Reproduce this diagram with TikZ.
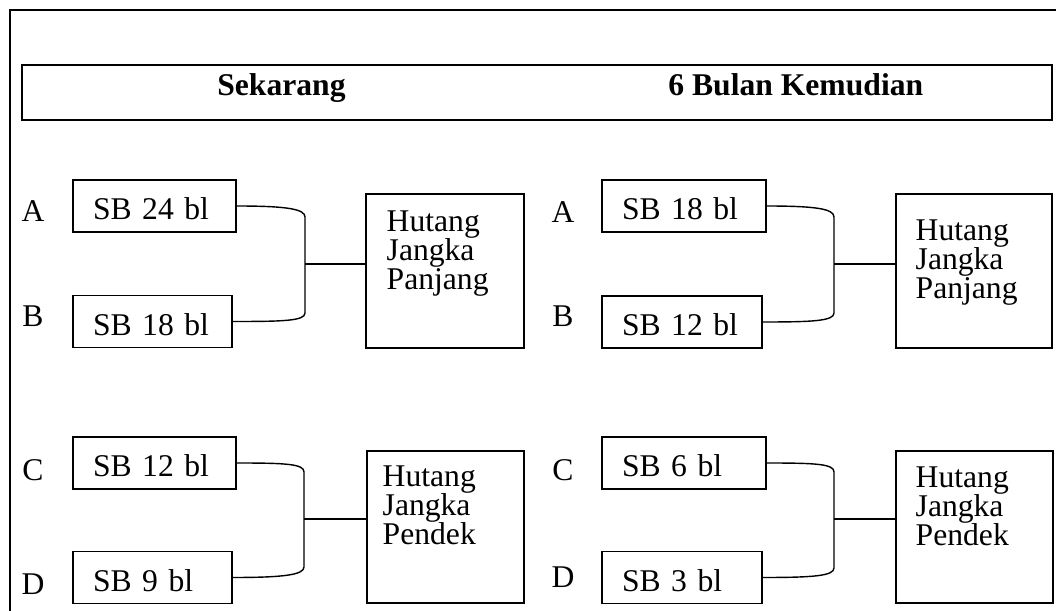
\documentclass[tikz,border=0pt]{standalone}
\usepackage{fontspec}
\setmainfont{Liberation Serif}
\usetikzlibrary{calc}

\begin{document}
\begin{tikzpicture}[x=0.02cm,y=-0.02cm,
    txt/.style={font={\fontsize{18}{16.6}\selectfont\lineskiplimit=-20pt},inner sep=0pt},
    lbl/.style={txt,anchor=base},
    sbbox/.style={draw,line width=0.75pt,txt,minimum height=1.04cm,inner xsep=0.4cm,align=left,text width=#1,text height=15.7pt,text depth=0pt},
    hutbox/.style={draw,line width=0.75pt},
    hutlbl/.style={txt,align=left,anchor=north west},
    conn/.style={line width=0.8pt},
    hdrtxt/.style={font={\fontsize{18}{21}\selectfont\bfseries},anchor=base west,inner sep=0pt}]
    \useasboundingbox (0,0) rectangle (1056,611);

    % outer frame (cut off at right and bottom)
    \draw[line width=1.5pt] (10,611) -- (10,10) -- (1056,10);

    % header
    \node[draw,line width=1.2pt,minimum width=20.6cm,minimum height=1.1cm] (hdr) at (537,92.5) {};
    \node[hdrtxt] (tnow) at (217,96) {Sekarang};
    \node[hdrtxt] (tlater) at (668,96) {6 Bulan Kemudian};

    % Sekarang: hutang jangka panjang
    \node[lbl] (la1) at (33,222) {A};
    \node[lbl] (lb1) at (33,327) {B};
    \node[sbbox=2.46cm] (sa1) at (154.5,206) {SB 24 bl};
    \node[sbbox=2.38cm] (sb1) at (152.5,321.5) {SB 18 bl};
    \node[hutbox,minimum width=3.16cm,minimum height=3.08cm] (hp1) at (445,271) {};
    \node[hutlbl] (hp1t) at ($(hp1.north west)+(21,17)$) {Hutang\\Jangka\\Panjang};
    \coordinate (j1) at (305,264);
    \draw[conn] (sa1.east) .. controls +(50,0) and +(0,-8) .. ($(j1)+(0,-47)$)
        -- ($(j1)+(0,49)$) .. controls +(0,8) and +(50,0) .. (sb1.east);
    \draw[conn] (j1) -- (j1 -| hp1.west);

    % Sekarang: hutang jangka pendek
    \node[lbl] (lc1) at (33,480) {C};
    \node[lbl] (ld1) at (33,594) {D};
    \node[sbbox=2.46cm] (sc1) at (154.5,463) {SB 12 bl};
    \node[sbbox=2.38cm] (sd1) at (152.5,577.5) {SB 9 bl};
    \node[hutbox,minimum width=3.14cm,minimum height=3.04cm] (hd1) at (445.5,527) {};
    \node[hutlbl] (hd1t) at ($(hd1.north west)+(16,15)$) {Hutang\\Jangka\\Pendek};
    \coordinate (j3) at (304,519);
    \draw[conn] (sc1.east) .. controls +(50,0) and +(0,-8) .. ($(j3)+(0,-47)$)
        -- ($(j3)+(0,48)$) .. controls +(0,8) and +(50,0) .. (sd1.east);
    \draw[conn] (j3) -- (j3 -| hd1.west);

    % 6 bulan kemudian: hutang jangka panjang
    \node[lbl] (la2) at (563,223) {A};
    \node[lbl] (lb2) at (563,327) {B};
    \node[sbbox=2.48cm] (sa2) at (684,206) {SB 18 bl};
    \node[sbbox=2.40cm] (sb2) at (682,322) {SB 12 bl};
    \node[hutbox,minimum width=3.12cm,minimum height=3.08cm] (hp2) at (974,271) {};
    \node[hutlbl] (hp2t) at ($(hp2.north west)+(20,26)$) {Hutang\\Jangka\\Panjang};
    \coordinate (j2) at (834,264);
    \draw[conn] (sa2.east) .. controls +(50,0) and +(0,-8) .. ($(j2)+(0,-47)$)
        -- ($(j2)+(0,49)$) .. controls +(0,8) and +(50,0) .. (sb2.east);
    \draw[conn] (j2) -- (j2 -| hp2.west);

    % 6 bulan kemudian: hutang jangka pendek
    \node[lbl] (lc2) at (563,480) {C};
    \node[lbl] (ld2) at (563,587) {D};
    \node[sbbox=2.48cm] (sc2) at (684,463) {SB 6 bl};
    \node[sbbox=2.40cm] (sd2) at (682,577.5) {SB 3 bl};
    \node[hutbox,minimum width=3.14cm,minimum height=3.04cm] (hd2) at (974.5,527) {};
    \node[hutlbl] (hd2t) at ($(hd2.north west)+(20,16)$) {Hutang\\Jangka\\Pendek};
    \coordinate (j4) at (834,519);
    \draw[conn] (sc2.east) .. controls +(50,0) and +(0,-8) .. ($(j4)+(0,-47)$)
        -- ($(j4)+(0,49)$) .. controls +(0,8) and +(50,0) .. (sd2.east);
    \draw[conn] (j4) -- (j4 -| hd2.west);
\end{tikzpicture}
\end{document}
